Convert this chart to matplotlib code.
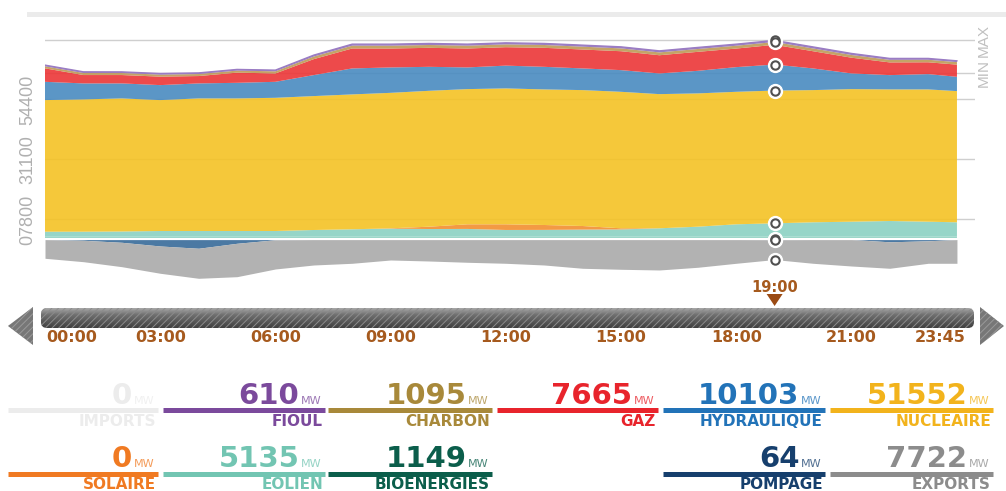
import matplotlib
matplotlib.use('Agg')
import matplotlib.pyplot as plt
from matplotlib.patches import FancyBboxPatch, Polygon, Rectangle
from matplotlib.colors import LinearSegmentedColormap
import numpy as np

# ---- data (MW), one value per hour, last point 23:45 ----
hours = [0, 1, 2, 3, 4, 5, 6, 7, 8, 9, 10, 11, 12, 13, 14, 15, 16, 17, 18, 19, 20, 21, 22, 23, 23.75]

nucleaire = [51100, 51370, 51680, 50830, 51490, 51490, 51720, 52000, 52380, 52600, 52770, 52500, 52770,
             52650, 52770, 53000, 52100, 51760, 51450, 51552, 51330, 51490, 51100, 51370, 50940]
hydraulique = [7100, 6210, 5820, 5820, 5820, 6050, 6210, 8150, 10090, 9860, 9310, 8420, 8850,
               8770, 8420, 8420, 8030, 8770, 9580, 10103, 8420, 6090, 5550, 5940, 5550]
gaz = [5230, 3250, 3250, 3290, 2860, 3950, 3250, 6200, 7750, 7340, 7380, 7340, 7150,
       7380, 7340, 7340, 7070, 7370, 7210, 7665, 6680, 6110, 4930, 4590, 4730]
charbon = [800, 800, 790, 780, 780, 800, 820, 1000, 1080, 1100, 1100, 1100, 1100,
           1100, 1100, 1100, 1100, 1100, 1100, 1095, 1080, 1050, 1000, 980, 980]
fioul = [450, 450, 440, 440, 440, 450, 470, 560, 600, 600, 600, 600, 600,
         600, 600, 600, 600, 610, 610, 610, 600, 600, 550, 520, 500]
bioenergies = [1100, 1100, 1100, 1100, 1100, 1100, 1110, 1120, 1130, 1130, 1130, 1130, 1130,
               1130, 1130, 1130, 1140, 1140, 1150, 1149, 1150, 1150, 1140, 1140, 1130]
eolien = [1930, 1930, 2010, 2200, 2200, 2200, 2190, 2570, 2830, 3070, 2940, 2970, 2570,
          2600, 2710, 2770, 3210, 3830, 4750, 5135, 5530, 5760, 6040, 5770, 5550]
solaire = [0, 0, 0, 0, 0, 0, 0, 0, 0, 150, 900, 1800, 2200,
           1900, 1400, 450, 0, 0, 0, 0, 0, 0, 0, 0, 0]
imports = [0] * 25
pompage = [0, 300, 1090, 2520, 3400, 1470, 100, 0, 0, 0, 0, 0, 0,
           0, 0, 0, 0, 0, 0, 64, 0, 0, 900, 500, 0]
exports = [7300, 8320, 9470, 10600, 11670, 12970, 11350, 9900, 9240, 7960, 8350, 8850, 9240,
           9900, 11180, 11570, 11840, 10790, 9240, 7722, 9240, 10290, 10280, 8740, 9240]

ytick_values = [7800, 31100, 54400]
time_labels = ['00:00', '03:00', '06:00', '09:00', '12:00', '15:00', '18:00', '21:00', '23:45']
time_label_hours = [0, 3, 6, 9, 12, 15, 18, 21, 23.75]
cursor = 19  # index of 19:00

# ---- figure ----
W, H = 1006, 491
fig = plt.figure(figsize=(W / 100, H / 100), dpi=100)


def px_box(x0, y0, x1, y1):
    return [x0 / W, 1 - y1 / H, (x1 - x0) / W, (y1 - y0) / H]


narrow = ['Liberation Sans', 'DejaVu Sans']

# chart area
ax = fig.add_axes(px_box(45, 30, 975, 285))
x = np.array(hours)
pos = [bioenergies, eolien, solaire, nucleaire, hydraulique, gaz, charbon, fioul]
pos_colors = ['#84ccbc', '#8bd1c2', '#f28f30', '#f4c224', '#498bc0', '#ec3637', '#be9a56', '#9071b9']
ax.stackplot(x, *pos, colors=pos_colors, alpha=0.9, linewidth=0, zorder=2)
total = np.sum(pos, axis=0)
ax.plot(x, total, color='#9a7cc4', lw=1, zorder=3)

pump = -np.array(pompage)
expo = pump - np.array(exports)
ax.fill_between(x, 0, pump, color='#376b99', alpha=0.9, lw=0, zorder=2)
ax.fill_between(x, pump, expo, color='#aaaaaa', alpha=0.9, lw=0, zorder=2)
ax.axhline(0, color='white', lw=1.6, zorder=4)

vmin, vmax = total.min(), total.max()
for v in ytick_values + [vmin, vmax]:
    ax.axhline(v, color='#cfcfcf', lw=1, zorder=1)

ax.set_xlim(0, 24.22)
ax.set_ylim(-17670, 81350)
for s in ax.spines.values():
    s.set_visible(False)
ax.set_xticks([])
ax.set_yticks(ytick_values)
ax.set_yticklabels(['%05d' % v for v in ytick_values], rotation=90, va='center',
                   color='#b0b0b0', fontsize=13, family=narrow)
ax.tick_params(axis='y', length=0, pad=6)
for v, lab in [(vmax, 'MAX'), (vmin, 'MIN')]:
    ax.text(1.0097, v, lab, rotation=90, ha='center', va='center', color='#c0c0c0',
            fontsize=11, family=narrow, transform=ax.get_yaxis_transform())

# markers at the cursor time
c = cursor
cum = np.cumsum([s[c] for s in pos])
marker_vals = [cum[-1], cum[-2], cum[4], cum[3], cum[2], 0, pump[c], expo[c]]
for v in marker_vals:
    ax.plot(hours[c], v, 'o', ms=10, mfc='white', mec='white', zorder=5)
    ax.plot(hours[c], v, 'o', ms=6, mfc='white', mec='#505050', mew=1.5, zorder=6)

# ---- overlay in pixel coords ----
ov = fig.add_axes([0, 0, 1, 1])
ov.axis('off')
ov.set_xlim(0, W)
ov.set_ylim(H, 0)
ov.set_autoscale_on(False)

ov.add_patch(Rectangle((27, 11.5), 979, 5.5, color='#ebebeb', lw=0))

# timeline bar
x0px, pxh = 45, 38.4
bar = FancyBboxPatch((41, 308), 933, 20, boxstyle='round,pad=0,rounding_size=6',
                     facecolor='none', edgecolor='none')
ov.add_patch(bar)
cmap = LinearSegmentedColormap.from_list('bar', ['#a8a8a8', '#707070', '#585858', '#404040'])
grad = np.linspace(0, 1, 50).reshape(-1, 1)
im = ov.imshow(grad, extent=(41, 974, 328, 308), cmap=cmap, aspect='auto', zorder=2)
im.set_clip_path(bar)
plt.rcParams['hatch.linewidth'] = 0.7
ov.add_patch(FancyBboxPatch((41, 308), 933, 20, boxstyle='round,pad=0,rounding_size=6',
                            facecolor='none', edgecolor='#8c8c8c', hatch='/////', lw=0, zorder=3))

# arrows
for pts in ([(33, 307), (33, 345), (8, 326)], [(980, 307), (980, 345), (1004, 326)]):
    ov.add_patch(Polygon(pts, closed=True, facecolor='#777777', edgecolor='#9a9a9a',
                         hatch='/////', lw=0, zorder=2))

tcol = '#a65a1e'
for lab, h in zip(time_labels, time_label_hours):
    xp = x0px + h * pxh
    ha = 'center'
    if h == 0:
        xp, ha = 46, 'left'
    elif h == time_label_hours[-1]:
        xp, ha = 966, 'right'
    ov.text(xp, 338, lab, ha=ha, va='center', color=tcol, fontsize=11.5, fontweight='bold')

cx = x0px + hours[cursor] * pxh
ov.text(cx, 288, '%02d:00' % hours[cursor], ha='center', va='center', color=tcol,
        fontsize=10.5, fontweight='bold')
ov.add_patch(Polygon([(cx - 8, 294), (cx + 8, 294), (cx, 306)], closed=True, color='#9b4b14', lw=0))

# ---- legend grid ----
col_left = [8, 163, 328, 497, 663, 830]
col_right = [158, 325, 492, 658, 825, 993]
row_line = [410, 473.5]
legend = [
    (0, 0, 'IMPORTS', imports[c], '#ececec'),
    (0, 1, 'FIOUL', fioul[c], '#7b4a9c'),
    (0, 2, 'CHARBON', charbon[c], '#a8893a'),
    (0, 3, 'GAZ', gaz[c], '#e8242c'),
    (0, 4, 'HYDRAULIQUE', hydraulique[c], '#2273b8'),
    (0, 5, 'NUCLÉAIRE', nucleaire[c], '#f2b31c'),
    (1, 0, 'SOLAIRE', solaire[c], '#f07a22'),
    (1, 1, 'ÉOLIEN', eolien[c], '#72c5b2'),
    (1, 2, 'BIOÉNERGIES', bioenergies[c], '#0b5e4b'),
    (1, 4, 'POMPAGE', pompage[c], '#163f6d'),
    (1, 5, 'EXPORTS', exports[c], '#8c8c8c'),
]
renderer = fig.canvas.get_renderer()
for row, col, name, val, color in legend:
    yl = row_line[row]
    xl, xr = col_left[col], col_right[col]
    ov.plot([xl, xr], [yl, yl], color=color, lw=3.6, solid_capstyle='butt')
    mw = ov.text(xr - 3, yl - 6.5, 'MW', ha='right', va='baseline', color=color, alpha=0.75,
                 fontsize=8)
    left = mw.get_window_extent(renderer).x0
    ov.text(left - 2, yl - 6.5, str(val), ha='right', va='baseline', color=color,
            fontsize=21, fontweight='bold')
    ov.text(xr - 2, yl + 11, name, ha='right', va='center', color=color,
            fontsize=11, fontweight='bold')

fig.savefig('out.png', dpi=100)
